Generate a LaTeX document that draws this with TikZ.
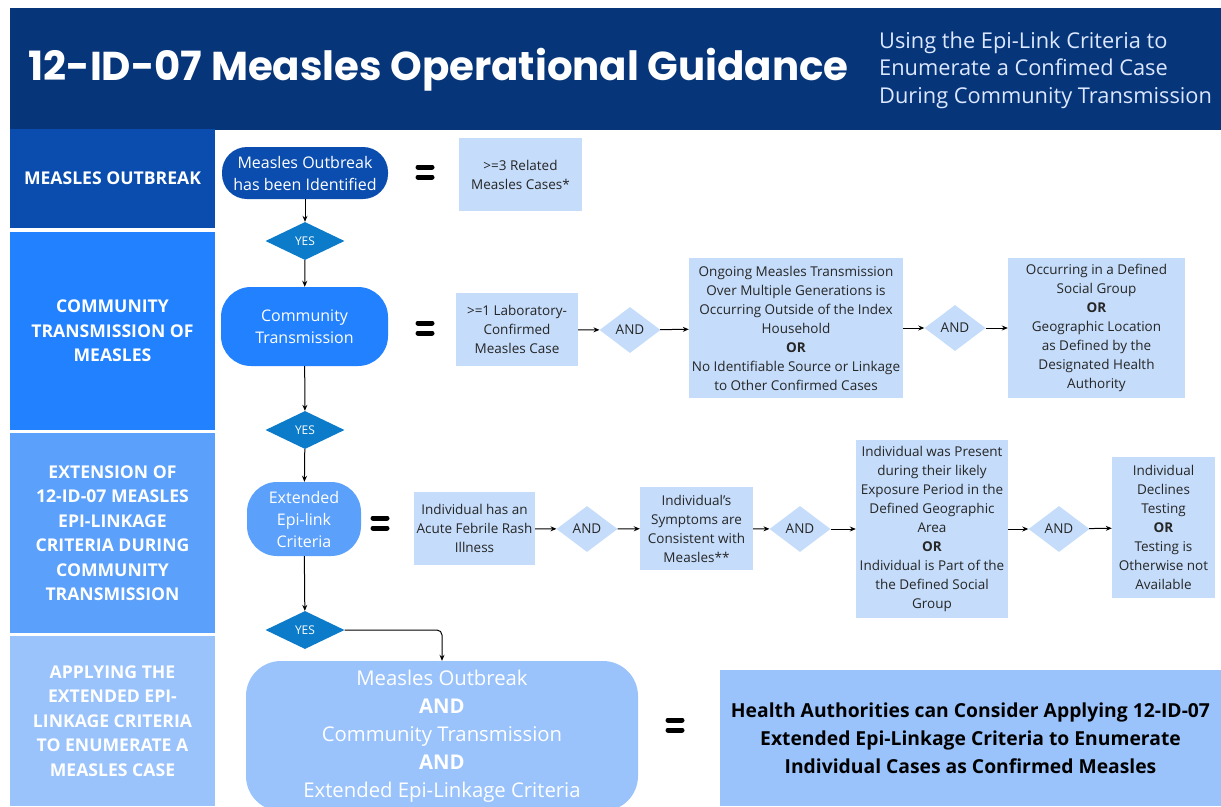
\documentclass[tikz,border=0pt]{standalone}
\usepackage{fontspec}
\setmainfont{Open Sans}
\newfontfamily\titlefont{Poppins}
\usetikzlibrary{shapes.geometric,arrows.meta}

\definecolor{hdrblue}{HTML}{06357A}
\definecolor{rowone}{HTML}{0B4DAE}
\definecolor{rowtwo}{HTML}{2281FF}
\definecolor{rowthree}{HTML}{5BA0FB}
\definecolor{rowfour}{HTML}{9AC3FC}
\definecolor{boxblue}{HTML}{C5DDFB}
\definecolor{yesblue}{HTML}{0C7BC9}
\definecolor{txtgray}{HTML}{262626}
\definecolor{subtxt}{HTML}{DCE8FF}

\tikzset{
  section/.style={fill=#1, text=white, align=center, minimum width=205pt, inner sep=0pt,
    font=\fontsize{17.6}{24.5}\selectfont\bfseries},
  stage/.style={fill=#1, text=white, align=center, inner sep=0pt,
    font=\fontsize{16}{22}\selectfont},
  critbox/.style={fill=boxblue, text=txtgray, align=center, inner sep=0pt,
    font=\fontsize{13.5}{19}\selectfont},
  yesdiamond/.style={diamond, aspect=2, fill=yesblue, text=white, inner sep=0pt,
    minimum width=79pt, minimum height=38pt, font=\fontsize{12}{14}\selectfont},
  anddiamond/.style={diamond, aspect=1.3, fill=boxblue, text=txtgray, inner sep=0pt,
    minimum width=61pt, minimum height=46pt, font=\fontsize{13.5}{15}\selectfont},
  eqsign/.style={minimum width=26pt, minimum height=18pt, inner sep=0pt,
    path picture={
      \draw[line width=5pt, line cap=round]
        ([xshift=6pt, yshift=5pt]path picture bounding box.west) -- ([xshift=-6pt, yshift=5pt]path picture bounding box.east);
      \draw[line width=5pt, line cap=round]
        ([xshift=6pt, yshift=-5pt]path picture bounding box.west) -- ([xshift=-6pt, yshift=-5pt]path picture bounding box.east);
    }}
}

\begin{document}
\begin{tikzpicture}[x=1pt, y=-1pt, >={Stealth[length=6pt, width=5pt]}]
    \useasboundingbox (0, 0) rectangle (1221, 806);
    \fill[white] (0, 0) rectangle (1221, 806);

    % header
    \node[fill=hdrblue, minimum width=1211pt, minimum height=122pt, inner sep=0pt, anchor=north west] (hdr) at (10, 8) {};
    \node[anchor=west, text=white, font=\titlefont\bfseries\fontsize{40.3}{44}\selectfont] (title) at (25, 70) {12-ID-07 Measles Operational Guidance};
    \node[anchor=west, text=subtxt, align=left, inner sep=0pt, font=\fontsize{21.8}{27.5}\selectfont] (subtitle) at (879, 70) {Using the Epi-Link Criteria to\\Enumerate a Confimed Case\\During Community Transmission};

    % left column
    \node[section=rowone, minimum height=99pt] (sec1) at (112.5, 178.5) {MEASLES OUTBREAK};
    \node[section=rowtwo, minimum height=198pt] (sec2) at (112.5, 331) {COMMUNITY\\TRANSMISSION OF\\MEASLES};
    \node[section=rowthree, minimum height=200pt] (sec3) at (112.5, 533) {EXTENSION OF\\12-ID-07 MEASLES\\EPI-LINKAGE\\CRITERIA DURING\\COMMUNITY\\TRANSMISSION};
    \node[section=rowfour, minimum height=170pt] (sec4) at (112.5, 721) {APPLYING THE\\EXTENDED EPI-\\LINKAGE CRITERIA\\TO ENUMERATE A\\MEASLES CASE};

    % stages
    \node[stage=rowone, minimum width=166pt, minimum height=52pt, rounded corners=25pt] (n1) at (305, 173) {Measles Outbreak\\has been Identified};
    \node[yesdiamond] (yes1) at (305, 241) {YES};
    \node[stage=rowtwo, minimum width=167pt, minimum height=79pt, rounded corners=30pt] (n2) at (304.5, 326.5) {Community\\Transmission};
    \node[yesdiamond] (yes2) at (305, 430) {YES};
    \node[stage=rowthree, minimum width=114pt, minimum height=74pt, rounded corners=30pt] (n3) at (304, 519) {Extended\\Epi-link\\Criteria};
    \node[yesdiamond] (yes3) at (305, 630) {YES};
    \node[stage=rowfour, minimum width=392pt, minimum height=150pt, rounded corners=35pt,
      font=\fontsize{20.3}{28}\selectfont] (n4) at (442, 736) {Measles Outbreak\\\textbf{AND}\\Community Transmission\\\textbf{AND}\\Extended Epi-Linkage Criteria};

    % equal signs
    \node[eqsign] (eq1) at (425, 172) {};
    \node[eqsign] (eq2) at (425, 328) {};
    \node[eqsign] (eq3) at (380, 523) {};
    \node[eqsign] (eq4) at (675, 725) {};

    % row 1
    \node[critbox, minimum width=123pt, minimum height=73pt] (b1) at (520.5, 174.5) {>=3 Related\\Measles Cases*};

    % row 2
    \node[critbox, minimum width=122pt, minimum height=73pt] (b2) at (517, 329.5) {>=1 Laboratory-\\Confirmed\\Measles Case};
    \node[anddiamond] (and1) at (630, 330) {AND};
    \node[critbox, minimum width=214pt, minimum height=140pt] (b3) at (796, 328) {Ongoing Measles Transmission\\Over Multiple Generations is\\Occurring Outside of the Index\\Household\\\textbf{OR}\\No Identifiable Source or Linkage\\to Other Confirmed Cases};
    \node[anddiamond] (and2) at (955, 328) {AND};
    \node[critbox, minimum width=177pt, minimum height=140pt] (b4) at (1096.5, 328) {Occurring in a Defined\\Social Group\\\textbf{OR}\\Geographic Location\\as Defined by the\\Designated Health\\Authority};

    % row 3
    \node[critbox, minimum width=121pt, minimum height=73pt] (b5) at (474.5, 528.5) {Individual has an\\Acute Febrile Rash\\Illness};
    \node[anddiamond] (and3) at (587, 529) {AND};
    \node[critbox, minimum width=113pt, minimum height=83pt] (b6) at (696.5, 528.5) {Individual’s\\Symptoms are\\Consistent with\\Measles**};
    \node[anddiamond] (and4) at (800, 529) {AND};
    \node[critbox, minimum width=152pt, minimum height=178pt] (b7) at (932, 529) {Individual was Present\\during their likely\\Exposure Period in the\\Defined Geographic\\Area\\\textbf{OR}\\Individual is Part of the\\the Defined Social\\Group};
    \node[anddiamond] (and5) at (1059, 529) {AND};
    \node[critbox, minimum width=103pt, minimum height=141pt] (b8) at (1163.5, 527.5) {Individual\\Declines\\Testing\\\textbf{OR}\\Testing is\\Otherwise not\\Available};

    % row 4
    \node[fill=rowfour, text=black, align=center, inner sep=0pt, minimum width=501pt, minimum height=136pt,
      font=\fontsize{19.3}{28}\selectfont\bfseries] (b9) at (970.5, 738) {Health Authorities can Consider Applying 12-ID-07\\Extended Epi-Linkage Criteria to Enumerate\\Individual Cases as Confirmed Measles};

    \draw[->, line width=1pt] (n1) -- (yes1);
    \draw[->, line width=1pt] (yes1) -- (n2);
    \draw[->, line width=1pt] (n2) -- (yes2);
    \draw[->, line width=1pt] (yes2) -- (n3);
    \draw[->, line width=1pt] (n3) -- (yes3);
    \draw[->, line width=1pt, rounded corners=5pt] (yes3.east) -| (n4.north);

    \draw[->, line width=1pt] (b2) -- (and1);
    \draw[->, line width=1pt] (and1) -- (b3);
    \draw[->, line width=1pt] (b3) -- (and2);
    \draw[->, line width=1pt] (and2) -- (b4);

    \draw[->, line width=1pt] (b5) -- (and3);
    \draw[->, line width=1pt] (and3) -- (b6);
    \draw[->, line width=1pt] (b6) -- (and4);
    \draw[->, line width=1pt] (and4) -- (b7);
    \draw[->, line width=1pt] (b7) -- (and5);
    \draw[->, line width=1pt] (and5) -- (b8);
\end{tikzpicture}
\end{document}
